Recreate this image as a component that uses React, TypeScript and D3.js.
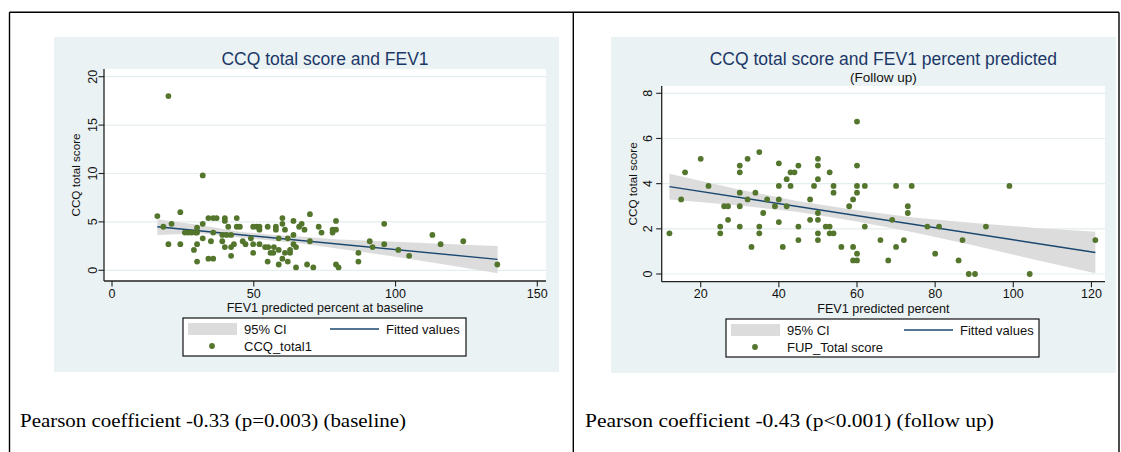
import * as d3 from "d3"
import React from "react"

// baseline: FEV1 % predicted vs CCQ total score
const baseFev = [16.0, 18.1, 19.9, 19.9, 21.0, 24.1, 24.1, 25.7, 26.9, 28.1, 29.5, 30.0, 30.0, 30.0, 30.0, 28.9, 32.0, 32.0, 32.0, 34.0, 35.7, 36.9, 34.9, 35.7, 34.0, 35.7, 39.8, 39.8, 41.0, 38.9, 40.4, 38.9, 39.8, 42.0, 42.0, 43.0, 42.0, 44.0, 44.0, 45.1, 46.1, 47.1, 49.0, 49.8, 51.0, 52.0, 52.0, 49.8, 52.0, 49.8, 54.0, 55.1, 54.9, 54.9, 55.9, 56.9, 57.1, 57.8, 57.8, 58.8, 58.8, 58.8, 60.1, 60.1, 60.1, 61.0, 61.0, 62.0, 62.0, 62.8, 62.8, 64.0, 64.0, 64.0, 64.9, 64.9, 66.0, 66.9, 67.9, 69.8, 69.8, 68.8, 71.0, 72.9, 73.9, 77.8, 79.0, 77.8, 79.0, 79.0, 79.9, 86.9, 86.9, 90.9, 91.9, 96.0, 96.0, 101.0, 104.8, 113.0, 115.9, 123.9, 135.9]
const baseCcq = [5.6, 4.5, 18.0, 2.7, 4.8, 6.0, 2.7, 3.9, 3.9, 3.9, 3.9, 4.4, 3.9, 2.7, 0.9, 2.1, 9.8, 4.8, 3.3, 5.4, 5.4, 5.4, 3.0, 3.9, 1.2, 1.2, 5.4, 5.1, 4.5, 3.65, 3.65, 3.0, 2.4, 3.65, 2.4, 2.7, 1.5, 5.4, 4.5, 4.5, 3.0, 2.7, 3.3, 4.5, 4.5, 4.5, 4.2, 2.7, 2.7, 1.8, 2.4, 2.4, 4.5, 0.9, 1.8, 1.8, 2.4, 4.5, 4.2, 3.3, 2.1, 0.6, 5.4, 4.8, 1.2, 4.2, 1.8, 3.3, 0.9, 2.1, 1.8, 5.1, 3.65, 2.7, 2.4, 0.3, 4.5, 4.8, 4.2, 5.8, 3.0, 0.6, 0.3, 4.5, 3.9, 4.2, 4.2, 3.9, 5.1, 0.6, 0.3, 1.8, 0.9, 3.0, 2.4, 4.8, 2.7, 2.1, 1.5, 3.65, 2.7, 3.0, 0.6]
const baseFitX = [16, 136]
const baseFitY = [4.5, 1.13]
const baseCiX = [16, 31, 45, 55, 66, 80, 100, 120, 136]
const baseCiLo = [3.65, 3.82, 3.39, 3.1, 2.8, 2.22, 1.41, 0.48, -0.31]
const baseCiHi = [5.27, 4.68, 3.99, 3.7, 3.5, 3.18, 2.96, 2.68, 2.51]
const baseXTicks = [0, 50, 100, 150]
const baseYTicks = [0, 5, 10, 15, 20]

// follow up
const fupFev = [12, 15, 16, 20, 22, 25, 25, 26, 27, 27, 30, 30, 30, 30, 30, 32, 32, 33, 34, 35, 35, 35, 36, 37, 39, 40, 40, 40, 40, 41, 42, 42, 43, 44, 43, 45, 45, 45, 48, 48, 49, 50, 50, 50, 50, 50, 50, 50, 52, 53, 53, 54, 53, 54, 54, 56, 58, 59, 59, 59, 60, 60, 60, 60, 60, 60, 62, 62, 66, 68, 69, 70, 70, 72, 73, 73, 74, 78, 80, 81, 86, 87, 88.6, 90.2, 93, 99, 104.2, 121]
const fupCcq = [1.8, 3.3, 4.5, 5.1, 3.9, 2.1, 1.8, 3.0, 3.0, 2.4, 4.8, 4.5, 3.6, 3.0, 2.1, 5.1, 3.3, 1.2, 3.6, 5.4, 2.1, 1.8, 2.7, 3.3, 3.0, 4.9, 3.9, 3.3, 2.3, 1.2, 4.2, 3.0, 4.5, 4.5, 3.9, 4.8, 2.1, 1.5, 3.3, 2.4, 3.9, 5.1, 4.8, 4.2, 2.7, 2.4, 1.8, 1.5, 2.1, 2.1, 1.8, 1.8, 4.5, 3.9, 3.6, 1.2, 3.0, 3.3, 1.2, 0.6, 0.6, 0.9, 6.75, 4.8, 3.9, 3.6, 3.9, 2.1, 1.5, 0.6, 2.4, 3.9, 1.2, 1.5, 3.0, 2.7, 3.9, 2.1, 0.9, 2.1, 0.6, 1.5, 0, 0, 2.1, 3.9, 0, 1.5]
const fupFitX = [12, 121]
const fupFitY = [3.87, 0.95]
const fupCiX = [12, 30, 45, 60, 75, 90, 105, 121]
const fupCiLo = [3.3, 3.03, 2.74, 2.32, 1.83, 1.26, 0.65, 0.03]
const fupCiHi = [4.44, 3.73, 3.22, 2.82, 2.49, 2.26, 2.05, 1.87]
const fupXTicks = [20, 40, 60, 80, 100, 120]
const fupYTicks = [0, 2, 4, 6, 8]

const SANS = "'Liberation Sans', Arial, Helvetica, sans-serif"
const SERIF = "'Liberation Serif', 'Times New Roman', serif"
const BG = "#eaf2f3"
const GRID = "#e4edef"
const TITLE = "#1c3868"
const DOT = "#53752c"
const FIT = "#1a476f"
const CI = "#dcdcdc"

function Panel(props: any) {
  const { box, plot, x, y, xTicks, yTicks, title, subtitle, xTitle, yTitle,
    xs, ys, fitX, fitY, ciX, ciLo, ciHi, legend, dotLabel, tickGap } = props
  const [l, t, r, b] = plot
  const cx = (l + r) / 2

  const area = d3.area<number>()
    .x((d, i) => x(ciX[i]))
    .y0((d, i) => y(ciLo[i]))
    .y1((d, i) => y(ciHi[i]))
  const line = d3.line<number>()
    .x((d, i) => x(fitX[i]))
    .y((d, i) => y(fitY[i]))

  const [lx, ly, lw, lh, lineOff] = legend

  return (
    <g fontFamily={SANS}>
      <rect x={box[0]} y={box[1]} width={box[2] - box[0]} height={box[3] - box[1]} fill={BG} />
      <rect x={l} y={t} width={r - l} height={b - t} fill="#fff" />
      {yTicks.map((v: number) => (
        <line key={"g" + v} x1={l} x2={r} y1={y(v)} y2={y(v)} stroke={GRID} strokeWidth={1.2} />
      ))}
      <path d={area(ciX) || ""} fill={CI} />
      <path d={line(fitX) || ""} fill="none" stroke={FIT} strokeWidth={1.4} />
      {xs.map((v: number, i: number) => (
        <circle key={i} cx={x(v)} cy={y(ys[i])} r={2.9} fill={DOT} />
      ))}
      <line x1={l} x2={l} y1={t} y2={b} stroke="#222" strokeWidth={1.3} />
      <line x1={l} x2={r} y1={b} y2={b} stroke="#222" strokeWidth={1.3} />
      {yTicks.map((v: number) => (
        <g key={"y" + v}>
          <line x1={l - 5.5} x2={l} y1={y(v)} y2={y(v)} stroke="#222" strokeWidth={1.1} />
          <text transform={`translate(${l - tickGap},${y(v)}) rotate(-90)`} textAnchor="middle"
            fontSize={12.5} fill="#111">{v}</text>
        </g>
      ))}
      {xTicks.map((v: number) => (
        <g key={"x" + v}>
          <line x1={x(v)} x2={x(v)} y1={b} y2={b + 5.5} stroke="#222" strokeWidth={1.1} />
          <text x={x(v)} y={b + 16.5} textAnchor="middle" fontSize={12.5} fill="#111">{v}</text>
        </g>
      ))}
      <text x={cx} y={65} textAnchor="middle" fontSize={17.5} fill={TITLE}>{title}</text>
      {subtitle && <text x={cx} y={81.5} textAnchor="middle" fontSize={13.5} fill="#111">{subtitle}</text>}
      <text x={cx} y={b + 30.8} textAnchor="middle" fontSize={12.6} fill="#111">{xTitle}</text>
      <text transform={`translate(${l - 24.3},${(t + b) / 2}) rotate(-90)`} textAnchor="middle"
        fontSize={11.7} fill="#111">{yTitle}</text>

      <rect x={lx} y={ly} width={lw} height={lh} fill="#fff" stroke="#111" strokeWidth={1.2} />
      <rect x={lx + 5} y={ly + 5} width={49} height={12} fill={CI} />
      <text x={lx + 61} y={ly + 16} fontSize={13} fill="#111">95% CI</text>
      <line x1={lx + lineOff} x2={lx + lineOff + 49} y1={ly + 11} y2={ly + 11} stroke={FIT} strokeWidth={1.4} />
      <text x={lx + lineOff + 56} y={ly + 16} fontSize={13} fill="#111">Fitted values</text>
      <circle cx={lx + 29} cy={ly + 28} r={2.9} fill={DOT} />
      <text x={lx + 61} y={ly + 32.5} fontSize={13} fill="#111">{dotLabel}</text>
    </g>
  )
}

export default function App() {
  const bx = d3.scaleLinear().domain([0, 150]).range([112, 537.3])
  const by = d3.scaleLinear().domain([0, 20]).range([270.3, 76.7])
  const fx = d3.scaleLinear().domain([20, 100]).range([700.7, 1013.3])
  const fy = d3.scaleLinear().domain([0, 8]).range([274, 93.3])

  return (
    <svg width={1121} height={452} style={{ position: "absolute", left: 0, top: 0, background: "#fff" }}>
      <line x1={9.5} x2={1119} y1={12.3} y2={12.3} stroke="#000" strokeWidth={1.4} />
      <line x1={9.5} x2={9.5} y1={12.3} y2={452} stroke="#000" strokeWidth={1.4} />
      <line x1={573.3} x2={573.3} y1={12.3} y2={452} stroke="#000" strokeWidth={1.4} />
      <line x1={1119} x2={1119} y1={12.3} y2={452} stroke="#000" strokeWidth={1.4} />

      <Panel box={[54, 37, 559, 372]} plot={[104, 69, 546, 281]} x={bx} y={by}
        xTicks={baseXTicks} yTicks={baseYTicks} tickGap={7.3}
        title="CCQ total score and FEV1" xTitle="FEV1 predicted percent at baseline" yTitle="CCQ total score"
        xs={baseFev} ys={baseCcq} fitX={baseFitX} fitY={baseFitY}
        ciX={baseCiX} ciLo={baseCiLo} ciHi={baseCiHi}
        legend={[183, 318, 283, 38, 147]} dotLabel="CCQ_total1" />

      <Panel box={[611, 37, 1116, 373]} plot={[661.7, 86, 1105, 281.7]} x={fx} y={fy}
        xTicks={fupXTicks} yTicks={fupYTicks} tickGap={10.2}
        title="CCQ total score and FEV1 percent predicted" subtitle="(Follow up)"
        xTitle="FEV1 predicted percent" yTitle="CCQ total score"
        xs={fupFev} ys={fupCcq} fitX={fupFitX} fitY={fupFitY}
        ciX={fupCiX} ciLo={fupCiLo} ciHi={fupCiHi}
        legend={[726, 319, 313, 38, 178]} dotLabel="FUP_Total score" />

      <text x={20} y={426.7} fontFamily={SERIF} fontSize={19.5} fill="#000"
        textLength={386} lengthAdjust="spacingAndGlyphs">
        Pearson coefficient -0.33 (p=0.003) (baseline)
      </text>
      <text x={585} y={426.7} fontFamily={SERIF} fontSize={19.5} fill="#000"
        textLength={409} lengthAdjust="spacingAndGlyphs">
        Pearson coefficient -0.43 (p&lt;0.001) (follow up)
      </text>
    </svg>
  )
}
